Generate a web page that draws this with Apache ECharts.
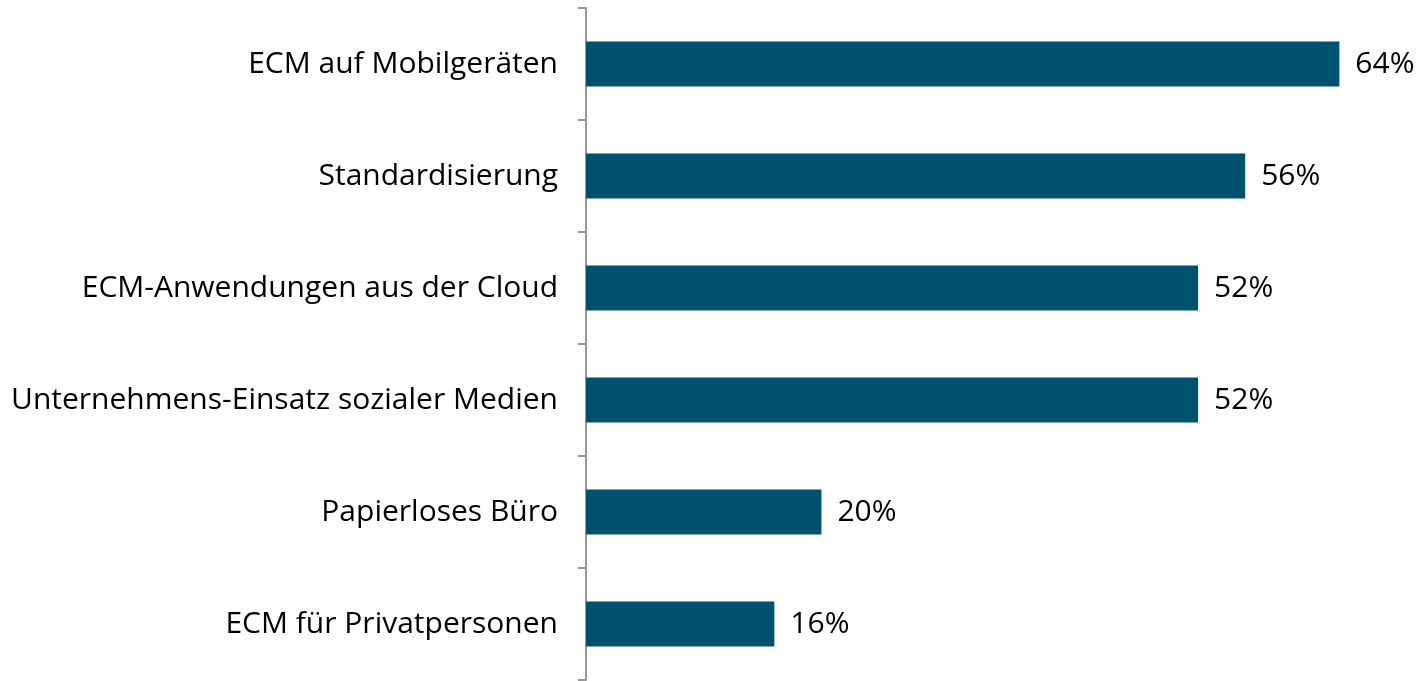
<!DOCTYPE html>
<html>
<head>
<meta charset="utf-8">
<script src="https://cdn.jsdelivr.net/npm/echarts@6/dist/echarts.min.js"></script>
<style>
html,body{margin:0;padding:0;background:#fff;}
#chart{width:1421px;height:681px;}
</style>
</head>
<body>
<div id="chart"></div>
<script>
// Kategorien von unten nach oben (ECharts zeichnet category-y von unten)
var categories = ['ECM für Privatpersonen', 'Papierloses Büro', 'Unternehmens-Einsatz sozialer Medien',
	'ECM-Anwendungen aus der Cloud', 'Standardisierung', 'ECM auf Mobilgeräten'];
var values = [16, 20, 52, 52, 56, 64];

var myChart = echarts.init(document.getElementById('chart'));
var option = {
	animation: false,
	grid: {
		left: 586,
		right: 11,
		top: 8,
		bottom: 1
	},
	xAxis: {
		type: 'value',
		min: 0,
		max: 70,
		show: false
	},
	yAxis: {
		type: 'category',
		data: categories,
		axisLine: {
			show: true,
			lineStyle: { color: '#999', width: 2 }
		},
		axisTick: {
			show: true,
			inside: false,
			length: 8,
			lineStyle: { color: '#999', width: 2 }
		},
		axisLabel: {
			margin: 28,
			color: '#000',
			fontFamily: 'Open Sans',
			fontSize: 30,
			padding: [4, 0, 0, 0]
		}
	},
	series: [{
		type: 'bar',
		data: values,
		barWidth: 45,
		itemStyle: { color: '#00516E' },
		label: {
			show: true,
			position: 'right',
			distance: 16,
			formatter: '{c}%',
			color: '#000',
			fontFamily: 'Open Sans',
			fontSize: 30,
			padding: [4, 0, 0, 0]
		}
	}]
};
myChart.setOption(option, true);
</script>
</body>
</html>
